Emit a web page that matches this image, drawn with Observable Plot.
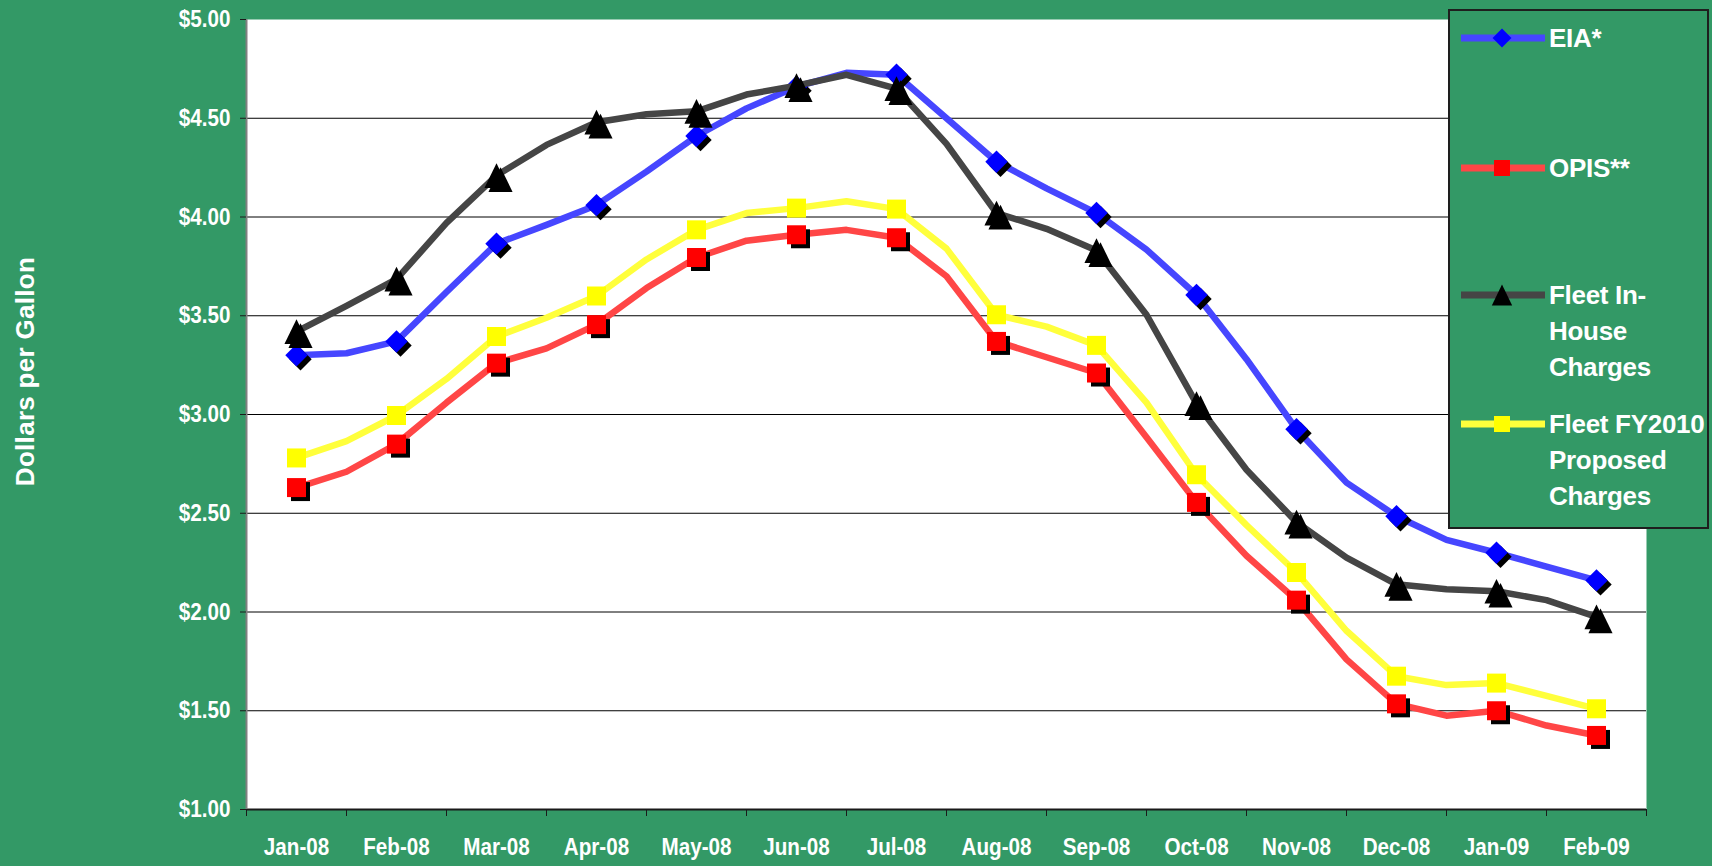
<!DOCTYPE html>
<html>
<head>
<meta charset="utf-8">
<script src="https://cdn.jsdelivr.net/npm/d3@7"></script>
<script src="https://cdn.jsdelivr.net/npm/@observablehq/plot@0.6"></script>
<style>
  html, body { margin: 0; padding: 0; background: #339966; }
  #wrap { position: relative; width: 1712px; height: 866px; overflow: hidden; font-family: "Liberation Sans", Arial, sans-serif; }
  #chart svg { display: block; }
  #legend { position: absolute; left: 1448px; top: 9px; width: 261px; height: 520px; box-sizing: border-box; border: 2px solid #1e1e1e; background: #339966; }
  .item { position: absolute; left: 11px; }
  .item svg { position: absolute; left: 0; top: 0; }
  .item .lbl { position: absolute; left: 88px; top: 0; color: #fff; font-weight: bold; font-size: 26px; line-height: 36px; white-space: nowrap; letter-spacing: -0.3px; }
</style>
</head>
<body>
<div id="wrap">
  <div id="chart"></div>
  <div id="legend"></div>
</div>
<script>
// ---- data ----
const months = ["Jan-08","Feb-08","Mar-08","Apr-08","May-08","Jun-08","Jul-08","Aug-08","Sep-08","Oct-08","Nov-08","Dec-08","Jan-09","Feb-09"];
// positions along the month axis (half-month steps; whole numbers are the monthly markers)
const positions = [0,0.5,1,1.5,2,2.5,3,3.5,4,4.5,5,5.5,6,6.5,7,7.5,8,8.5,9,9.5,10,10.5,11,11.5,12,12.5,13];
const eia      = [3.30,3.31,3.37,3.62,3.865,3.96,4.06,4.23,4.41,4.55,4.66,4.73,4.72,4.50,4.28,4.145,4.02,3.835,3.605,3.28,2.925,2.655,2.485,2.365,2.30,2.23,2.16];
const opis     = [2.63,2.71,2.85,3.06,3.26,3.335,3.455,3.64,3.795,3.88,3.91,3.935,3.895,3.70,3.37,3.29,3.21,2.885,2.555,2.285,2.06,1.76,1.535,1.475,1.50,1.425,1.375];
const inHouse  = [3.42,3.55,3.685,3.97,4.21,4.365,4.48,4.52,4.535,4.62,4.665,4.72,4.65,4.37,4.02,3.94,3.83,3.505,3.055,2.72,2.455,2.275,2.14,2.115,2.105,2.06,1.975];
const fy2010   = [2.78,2.865,2.995,3.18,3.395,3.49,3.60,3.785,3.935,4.02,4.045,4.08,4.04,3.84,3.505,3.445,3.35,3.06,2.695,2.44,2.20,1.905,1.675,1.63,1.64,1.575,1.51];
const seriesNames = ["EIA*","OPIS**","Fleet In-House Charges","Fleet FY2010 Proposed Charges"];
const legendLines = [["EIA*"],["OPIS**"],["Fleet In-","House","Charges"],["Fleet FY2010","Proposed","Charges"]];
const yTicks = [1.00,1.50,2.00,2.50,3.00,3.50,4.00,4.50,5.00];
const yTitle = "Dollars per Gallon";

// ---- symbols (Excel-like markers) ----
const sq = { draw(ctx, size) { const r = Math.sqrt(size / Math.PI); ctx.rect(-r, -r, 2 * r, 2 * r); } };
const dia = { draw(ctx, size) { const r = Math.sqrt(size / Math.PI) * 1.18; ctx.moveTo(0, -r); ctx.lineTo(r, 0); ctx.lineTo(0, r); ctx.lineTo(-r, 0); ctx.closePath(); } };
const tri = { draw(ctx, size) { const r = Math.sqrt(size / Math.PI); ctx.moveTo(0, -1.3 * r); ctx.lineTo(1.27 * r, 1.3 * r); ctx.lineTo(-1.27 * r, 1.3 * r); ctx.closePath(); } };

const styles = [
  {line: "#4646ff", marker: "#0000ff", symbol: dia, shadow: true},
  {line: "#ff4646", marker: "#ff0000", symbol: sq, shadow: true},
  {line: "#454545", marker: "#000000", symbol: tri, shadow: true},
  {line: "#ffff3c", marker: "#ffff00", symbol: sq, shadow: false}
];
const valuesList = [eia, opis, inHouse, fy2010];
const series = valuesList.map((vals, k) => vals.map((v, i) => ({pos: positions[i], value: v, name: seriesNames[k]})));

const marks = [
  Plot.frame({fill: "white", stroke: null}),
  Plot.ruleY(yTicks.filter(d => d > 1 && d < 5), {y: d => d, stroke: "#000", strokeWidth: 1}),
];
series.forEach((data, k) => {
  const st = styles[k];
  const pts = data.filter(d => Number.isInteger(d.pos));
  marks.push(Plot.line(data, {x: "pos", y: "value", stroke: st.line, strokeWidth: 6.5, strokeLinejoin: "round", strokeLinecap: "butt"}));
  if (st.shadow) marks.push(Plot.dot(pts, {x: "pos", y: "value", r: 9.5, symbol: st.symbol, fill: "#000", stroke: null, dx: 4, dy: 4}));
  marks.push(Plot.dot(pts, {x: "pos", y: "value", r: 9.5, symbol: st.symbol, fill: st.marker, stroke: null}));
});
const boundaries = months.map((m, i) => i - 0.5).concat([months.length - 0.5]);
marks.push(
  Plot.ruleY([yTicks[0]], {y: d => d, stroke: "#1a1a1a", strokeWidth: 2}),
  Plot.ruleX([boundaries[0]], {x: d => d, stroke: "#808080", strokeWidth: 2}),
  Plot.axisY({ticks: yTicks, tickFormat: d => "$" + d.toFixed(2), tickSize: 6, tickPadding: 10, stroke: "#1a1a1a", fill: "white", fontSize: 24, fontWeight: "bold", label: null}),
  Plot.axisX({ticks: boundaries, tickFormat: () => "", tickSize: 7, stroke: "#1a1a1a", label: null}),
  Plot.axisX({ticks: months.map((m, i) => i), tickFormat: i => months[i], tickSize: 0, tickPadding: 28, fill: "white", fontSize: 24, fontWeight: "bold", label: null}),
  Plot.text([yTitle], {frameAnchor: "left", rotate: -90, dx: -221, dy: -43, fill: "white", fontSize: 26, fontWeight: "bold", textAnchor: "middle"})
);

const chart = Plot.plot({
  width: 1712, height: 866,
  marginLeft: 246, marginRight: 66, marginTop: 19, marginBottom: 57,
  x: {type: "linear", domain: [boundaries[0], boundaries[boundaries.length - 1]]},
  y: {type: "linear", domain: [yTicks[0], yTicks[yTicks.length - 1]]},
  style: {background: "transparent", fontFamily: "'Liberation Sans', Arial, sans-serif", overflow: "visible"},
  marks
});
document.getElementById("chart").appendChild(chart);
// condense tick labels horizontally (Excel-like narrow look) without moving their anchors
chart.querySelectorAll('g[aria-label="y-axis tick label"] text, g[aria-label="x-axis tick label"] text').forEach(t => {
  const w = t.getComputedTextLength();
  if (w > 0) {
    t.setAttribute("textLength", (w * 0.86).toFixed(2));
    t.setAttribute("lengthAdjust", "spacingAndGlyphs");
  }
});
chart.querySelectorAll('g[aria-label="text"] text').forEach(t => t.style.letterSpacing = "0.3px");

// ---- legend ----
const legend = document.getElementById("legend");
const tops = [9, 139, 266, 395];
const ns = "http://www.w3.org/2000/svg";
legendLines.forEach((lines, k) => {
  const st = styles[k];
  const item = document.createElement("div");
  item.className = "item";
  item.style.top = tops[k] + "px";
  const svg = document.createElementNS(ns, "svg");
  svg.setAttribute("width", 86); svg.setAttribute("height", 36);
  const ln = document.createElementNS(ns, "line");
  ln.setAttribute("x1", 0); ln.setAttribute("x2", 84); ln.setAttribute("y1", 18); ln.setAttribute("y2", 18);
  ln.setAttribute("stroke", st.line); ln.setAttribute("stroke-width", 7);
  svg.appendChild(ln);
  const p = d3.path();
  st.symbol.draw(p, Math.PI * 8 * 8);
  const mk = document.createElementNS(ns, "path");
  mk.setAttribute("d", p.toString());
  mk.setAttribute("transform", "translate(41,18)");
  mk.setAttribute("fill", st.marker);
  svg.appendChild(mk);
  item.appendChild(svg);
  const lbl = document.createElement("div");
  lbl.className = "lbl";
  lbl.innerHTML = lines.join("<br>");
  item.appendChild(lbl);
  legend.appendChild(item);
});
</script>
</body>
</html>
